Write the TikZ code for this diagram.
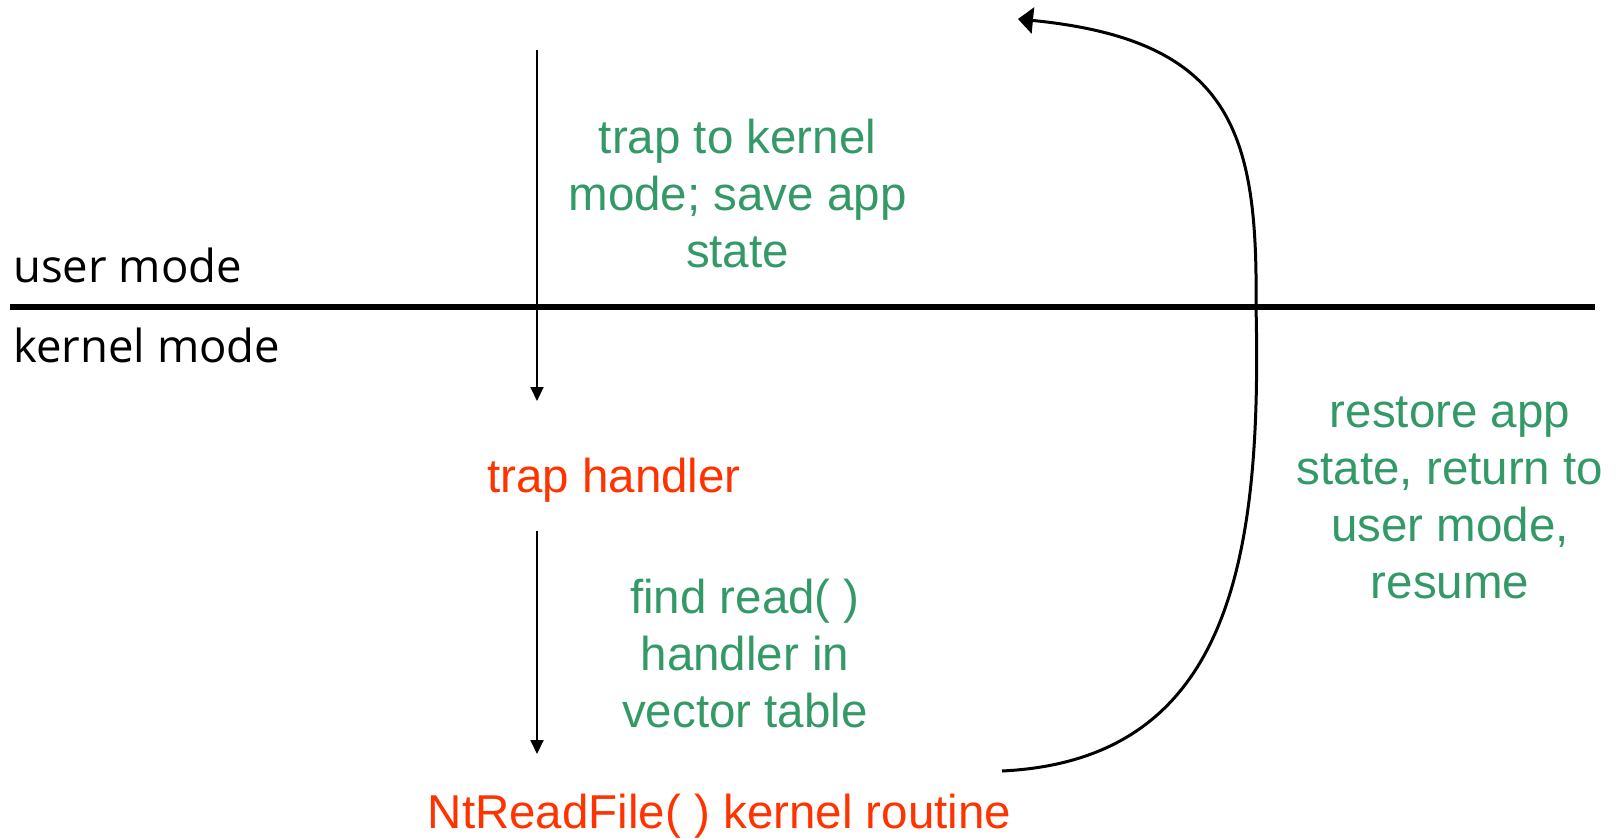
\documentclass[tikz,border=0pt]{standalone}
\usepackage{fontspec}
\setmainfont{Liberation Sans}
\newfontfamily\handfont{Open Sans}
\usetikzlibrary{arrows.meta}
\definecolor{lblgreen}{RGB}{51,153,102}
\definecolor{lblred}{RGB}{255,51,0}
\tikzset{
  lbl/.style={inner sep=0pt, align=center, font=\fontsize{47.5}{57}\selectfont},
  greenlbl/.style={lbl, text=lblgreen},
  redlbl/.style={lbl, text=lblred},
  modelbl/.style={inner sep=0pt, anchor=base west, font=\handfont\fontsize{45.5}{50}\selectfont},
  flow/.style={line width=2pt, -{Triangle[length=14pt,width=13pt]}},
  back/.style={line width=3pt, -{Triangle[length=15pt,width=26pt]}}
}
\begin{document}
\begin{tikzpicture}[x=1pt,y=-1pt]
\useasboundingbox (0,0) rectangle (1619,838);
% mode divider
\coordinate (divL) at (10,307);
\coordinate (divR) at (1595,307);
\draw[line width=6pt] (divL) -- (divR);
\node[modelbl] (user) at (13,282) {user mode};
\node[modelbl] (kern) at (13,362) {kernel mode};
% labels (anchor=base is the baseline of the last line)
\node[greenlbl, anchor=base] (trapk) at (737.5,267) {trap to kernel\\mode; save app\\state};
\node[redlbl, anchor=base] (th) at (614,492) {trap handler};
\node[greenlbl, anchor=base] (find) at (745,727) {find read( )\\handler in\\vector table};
\node[redlbl, anchor=base] (nt) at (719.5,828) {NtReadFile( ) kernel routine};
\node[greenlbl, anchor=base] (rest) at (1450,598) {restore app\\state, return to\\user mode,\\resume};
% arrows
\coordinate (a1s) at (537,50);
\coordinate (a1e) at (537,401);
\coordinate (a2s) at (537,531);
\coordinate (a2e) at (537,754);
\draw[flow] (a1s) -- (a1e);
\draw[flow] (a2s) -- (a2e);
\coordinate (cs) at (1002,771);
\coordinate (cm) at (1256,306);
\coordinate (ce) at (1018,19);
\draw[back] (cs) .. controls (1230,760) and (1262,560) .. (cm)
  .. controls (1258,130) and (1230,40) .. (ce);
\end{tikzpicture}
\end{document}
